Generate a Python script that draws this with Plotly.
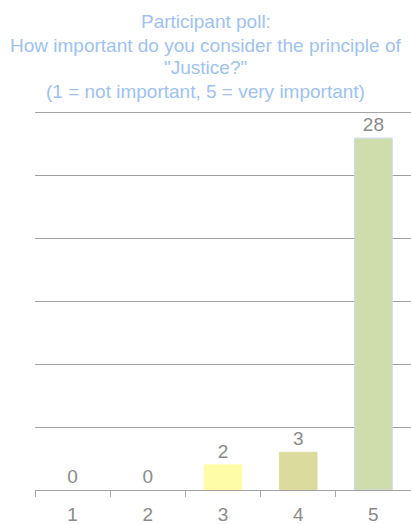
import plotly.graph_objects as go

categories = ["1", "2", "3", "4", "5"]
values = [0, 0, 2, 3, 28]
bar_colors = ["#a8c8ee", "#c8e0f4", "#fffca8", "#dcdb9e", "#cfdcab"]
bar_edges = ["#ffffff", "#ffffff", "#fffca8", "#dcdb9e", "#c6d9ef"]
title_lines = [
    "Participant poll:",
    "How important do you consider the principle of",
    "\"Justice?\"",
    "(1 = not important, 5 = very important)",
]

H = 524
fig = go.Figure(
    go.Bar(
        x=categories,
        y=values,
        marker=dict(color=bar_colors, line=dict(color=bar_edges, width=1)),
        width=0.5,
        text=[str(v) for v in values],
        textposition="outside",
        textfont=dict(size=19, color="#8a8a8a", family="Liberation Sans"),
        cliponaxis=False,
    )
)

# title as separate lines to match the tighter line spacing
for i, line in enumerate(title_lines):
    fig.add_annotation(
        text=line,
        xref="paper",
        yref="paper",
        x=0.5 - 35 / 376 / 2 * 0 + (205.5 - 35 - 188) / 376,
        y=(H - 34 - (22 + 23 * i)) / (H - 113 - 34),
        xanchor="center",
        yanchor="middle",
        showarrow=False,
        font=dict(size=19, color="#9fc2ee", family="Liberation Sans"),
    )

fig.update_layout(
    width=411,
    height=H,
    margin=dict(l=35, r=0, t=113, b=34, autoexpand=False),
    paper_bgcolor="white",
    plot_bgcolor="white",
    showlegend=False,
    font=dict(family="Liberation Sans", color="#888888"),
    xaxis=dict(
        type="category",
        tickson="boundaries",
        ticks="outside",
        ticklen=6,
        tickcolor="#aaaaaa",
        showline=True,
        mirror=True,
        linecolor="#a4a4a4",
        linewidth=1,
        showgrid=False,
        automargin=False,
        ticklabelstandoff=7,
        tickfont=dict(size=19, color="#8a8a8a"),
    ),
    yaxis=dict(
        range=[0, 30],
        tickmode="array",
        tickvals=[5, 10, 15, 20, 25],
        showgrid=True,
        gridcolor="#a0a0a0",
        gridwidth=1,
        showticklabels=False,
        zeroline=False,
        ticks="",
        automargin=False,
    ),
)

fig.write_html(
    "out.html",
    config={"displayModeBar": False},
    post_script="document.body.style.margin='0';document.body.style.padding='0';",
)
